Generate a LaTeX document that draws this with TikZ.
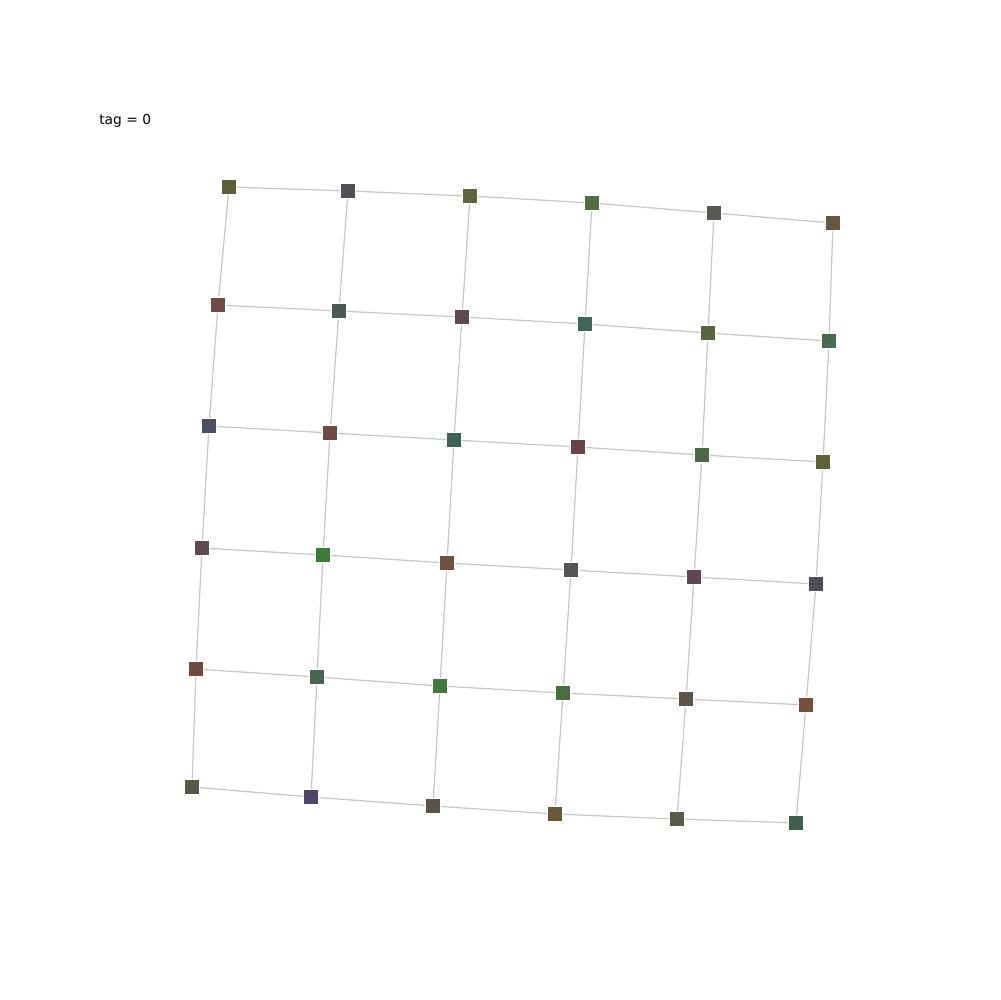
\documentclass[tikz,border=0pt]{standalone}
\usepackage{fontspec}
\setmainfont{DejaVu Sans}
\begin{document}
\begin{tikzpicture}[x=0.0254cm,y=-0.0254cm,
  sq/.style={rectangle,minimum size=11.2pt,inner sep=0pt,draw=white,line width=0.4pt,fill=#1},
  edge/.style={draw={rgb,255:red,200;green,200;blue,200},line width=0.9pt}]
\useasboundingbox (0,0) rectangle (1000,1000);
\node[anchor=west,font=\fontsize{10pt}{12pt}\selectfont,inner sep=0pt] (tag) at (99,121) {tag = 0};
% colours
\definecolor{c00}{HTML}{5F5F3A}\definecolor{c01}{HTML}{4F4F55}\definecolor{c02}{HTML}{5F6540}
\definecolor{c03}{HTML}{4E7040}\definecolor{c04}{HTML}{555A52}\definecolor{c05}{HTML}{665643}
\definecolor{c10}{HTML}{6B4C48}\definecolor{c11}{HTML}{4A5856}\definecolor{c12}{HTML}{5E4A4E}
\definecolor{c13}{HTML}{3F6658}\definecolor{c14}{HTML}{56653F}\definecolor{c15}{HTML}{4A6A50}
\definecolor{c20}{HTML}{4D4F62}\definecolor{c21}{HTML}{6C4A45}\definecolor{c22}{HTML}{3D6557}
\definecolor{c23}{HTML}{6A434A}\definecolor{c24}{HTML}{4A6A46}\definecolor{c25}{HTML}{5F6138}
\definecolor{c30}{HTML}{5E4A50}\definecolor{c31}{HTML}{3F7A3A}\definecolor{c32}{HTML}{6E4F40}
\definecolor{c33}{HTML}{535750}\definecolor{c34}{HTML}{5E4658}\definecolor{c35}{HTML}{4E4A62}
\definecolor{c40}{HTML}{6E4A40}\definecolor{c41}{HTML}{496650}\definecolor{c42}{HTML}{3F7A40}
\definecolor{c43}{HTML}{4A6E40}\definecolor{c44}{HTML}{5E5448}\definecolor{c45}{HTML}{754E3C}
\definecolor{c50}{HTML}{585A45}\definecolor{c51}{HTML}{50466A}\definecolor{c52}{HTML}{5C5248}
\definecolor{c53}{HTML}{6A5A3A}\definecolor{c54}{HTML}{5A5A48}\definecolor{c55}{HTML}{40604E}
% coordinates
\coordinate (p00) at (229,187);\coordinate (p01) at (348,191);\coordinate (p02) at (470,196);
\coordinate (p03) at (592,203);\coordinate (p04) at (714,213);\coordinate (p05) at (833,223);
\coordinate (p10) at (218,305);\coordinate (p11) at (339,311);\coordinate (p12) at (462,317);
\coordinate (p13) at (585,324);\coordinate (p14) at (708,333);\coordinate (p15) at (829,341);
\coordinate (p20) at (209,426);\coordinate (p21) at (330,433);\coordinate (p22) at (454,440);
\coordinate (p23) at (578,447);\coordinate (p24) at (702,455);\coordinate (p25) at (823,462);
\coordinate (p30) at (202,548);\coordinate (p31) at (323,555);\coordinate (p32) at (447,563);
\coordinate (p33) at (571,570);\coordinate (p34) at (694,577);\coordinate (p35) at (816,584);
\coordinate (p40) at (196,669);\coordinate (p41) at (317,677);\coordinate (p42) at (440,686);
\coordinate (p43) at (563,693);\coordinate (p44) at (686,699);\coordinate (p45) at (806,705);
\coordinate (p50) at (192,787);\coordinate (p51) at (311,797);\coordinate (p52) at (433,806);
\coordinate (p53) at (555,814);\coordinate (p54) at (677,819);\coordinate (p55) at (796,823);
% edges
\foreach \r in {0,...,5}{
  \foreach \c [count=\n from 1] in {0,...,4}{
    \draw[edge] (p\r\c) -- (p\r\n);
  }
}
\foreach \c in {0,...,5}{
  \foreach \r [count=\n from 1] in {0,...,4}{
    \draw[edge] (p\r\c) -- (p\n\c);
  }
}
% nodes
\foreach \r in {0,...,5}{
  \foreach \c in {0,...,5}{
    \node[sq=c\r\c] (n\r\c) at (p\r\c) {};
  }
}
\end{tikzpicture}
\end{document}
